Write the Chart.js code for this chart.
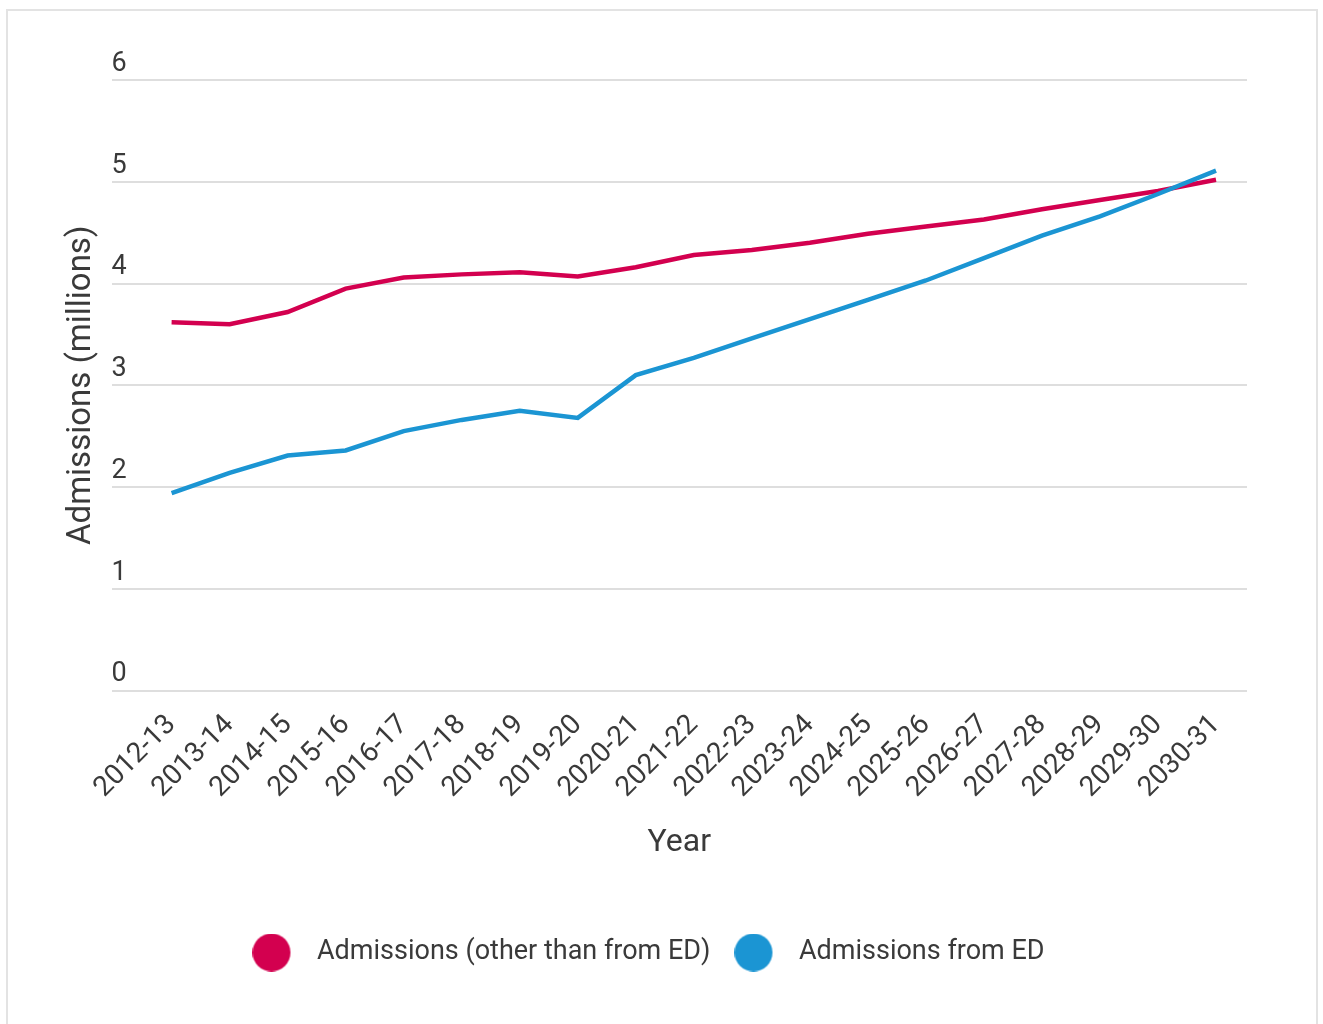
<!DOCTYPE html>
<html>
<head>
<meta charset="utf-8">
<script src="https://cdn.jsdelivr.net/npm/chart.js@4.4.1/dist/chart.umd.min.js"></script>
<style>
  body { margin: 0; background: #fff; }
  .frame { position: absolute; left: 6px; top: 9px; width: 1308px; height: 1030px; border: 2px solid #e3e3e3; }
  .wrap { position: absolute; left: 0; top: 0; width: 1323px; height: 1024px; }
</style>
</head>
<body>
<div class="frame"></div>
<div class="wrap"><canvas id="admissionsChart"></canvas></div>
<script>
const years = ['2012-13', '2013-14', '2014-15', '2015-16', '2016-17', '2017-18', '2018-19', '2019-20', '2020-21',
    '2021-22', '2022-23', '2023-24', '2024-25', '2025-26', '2026-27', '2027-28', '2028-29', '2029-30', '2030-31'];
const otherAdmissions = [3.62, 3.60, 3.72, 3.95, 4.06, 4.09, 4.11, 4.07, 4.16, 4.28, 4.33, 4.40, 4.49, 4.56, 4.63, 4.73, 4.82, 4.91, 5.02];
const edAdmissions = [1.94, 2.14, 2.31, 2.36, 2.55, 2.66, 2.75, 2.68, 3.10, 3.27, 3.46, 3.65, 3.84, 4.03, 4.25, 4.47, 4.66, 4.88, 5.11];
const yTicks = [0, 1, 2, 3, 4, 5, 6];

const red = '#d3004f';
const blue = '#1b95d3';
const textColor = '#3a3a3a';
const font = 'Roboto';

// legend dot with a bit of room on its right
function dot(color) {
    const c = document.createElement('canvas');
    c.width = 51;
    c.height = 38;
    const g = c.getContext('2d');
    g.fillStyle = color;
    g.beginPath();
    g.arc(19, 19, 19, 0, Math.PI * 2);
    g.fill();
    return c;
}
const dots = [dot(red), dot(blue)];

const toPoints = arr => arr.map((v, i) => ({ x: i, y: v }));

const ctx = document.getElementById('admissionsChart');

new Chart(ctx, {
    type: 'line',
    data: {
        datasets: [{
            label: 'Admissions (other than from ED)',
            data: toPoints(otherAdmissions),
            borderColor: red,
            backgroundColor: red,
            borderWidth: 4.5,
            pointRadius: 0,
            tension: 0,
            order: 1
        }, {
            label: 'Admissions from ED',
            data: toPoints(edAdmissions),
            borderColor: blue,
            backgroundColor: blue,
            borderWidth: 4.5,
            pointRadius: 0,
            tension: 0,
            order: 0
        }]
    },
    options: {
        responsive: true,
        maintainAspectRatio: false,
        animation: false,
        layout: { padding: { left: 50, right: 76, top: 80, bottom: 48 } },
        scales: {
            x: {
                type: 'linear',
                min: -1.034,
                max: 18.534,
                afterBuildTicks: scale => { scale.ticks = years.map((_, i) => ({ value: i })); },
                grid: { display: false },
                border: { display: false },
                ticks: {
                    autoSkip: false,
                    minRotation: 45,
                    maxRotation: 45,
                    padding: 10,
                    color: textColor,
                    font: { family: font, size: 28 },
                    callback: v => years[v]
                },
                title: {
                    display: true,
                    text: 'Year',
                    color: textColor,
                    font: { family: font, size: 32 },
                    padding: { top: 9, bottom: 53 }
                }
            },
            y: {
                min: 0,
                max: 6,
                afterBuildTicks: scale => { scale.ticks = yTicks.map(v => ({ value: v })); },
                grid: { color: '#dedede', lineWidth: 2, drawTicks: false },
                border: { display: false },
                ticks: {
                    mirror: true,
                    padding: 0,
                    labelOffset: -16,
                    color: textColor,
                    font: { family: font, size: 27 }
                },
                title: {
                    display: true,
                    text: 'Admissions (millions)',
                    color: textColor,
                    font: { family: font, size: 33 },
                    padding: { top: 12, bottom: 10 }
                }
            }
        },
        plugins: {
            tooltip: { enabled: false },
            legend: {
                position: 'bottom',
                labels: {
                    usePointStyle: true,
                    pointStyleWidth: 51,
                    padding: 24,
                    color: textColor,
                    font: { family: font, size: 27 },
                    sort: (a, b) => a.datasetIndex - b.datasetIndex,
                    generateLabels(chart) {
                        const items = Chart.defaults.plugins.legend.labels.generateLabels(chart);
                        items.forEach(it => { it.pointStyle = dots[it.datasetIndex]; });
                        return items;
                    }
                }
            }
        }
    }
});
</script>
</body>
</html>
